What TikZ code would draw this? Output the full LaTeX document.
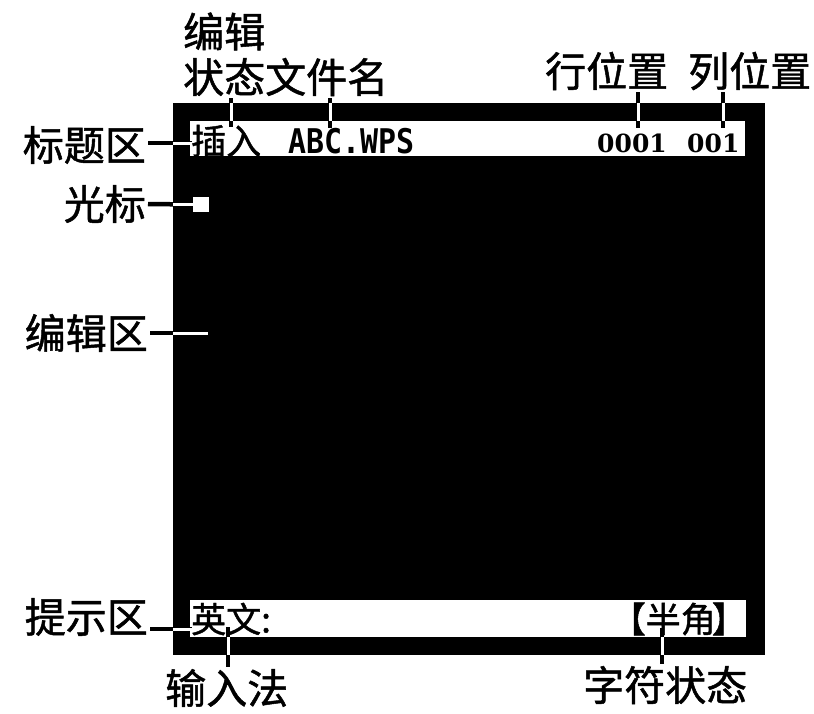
\documentclass[tikz,border=0pt]{standalone}
\usepackage{fontspec}
\newfontfamily\cjk{Noto Sans CJK SC}[FakeBold=1.2]
\newfontfamily\monofont{DejaVu Sans Mono}[FakeStretch=0.88]
\newfontfamily\digitfont{DejaVu Serif}

\begin{document}
\begin{tikzpicture}
			[
			x = {(1pt, 0pt)},
			y = {(0pt, -1pt)},
			screen/.style = {fill = black, inner sep = 0pt},
			bar/.style = {fill = white, inner sep = 0pt},
			tag/.style = {font = \cjk\fontsize{41}{41}\selectfont, inner sep = 2pt},
			shown/.style = {font = \cjk\fontsize{35}{35}\selectfont, inner sep = 0pt},
			shownmono/.style = {font = \monofont\bfseries\fontsize{34}{34}\selectfont, inner sep = 0pt},
			showndigit/.style = {font = \digitfont\bfseries\fontsize{25}{25}\selectfont, inner sep = 0pt},
			lead/.style = {color = black, line width = 4.5pt},
			leadin/.style = {color = white, line width = 3pt}]
			
			\useasboundingbox (0, 0) rectangle (814, 713);
			
			%% Drawing the screen
			
			\node[screen, minimum width = 592pt, minimum height = 552pt] (scr) at (469, 379) {};
			\node[bar, minimum width = 555pt, minimum height = 35pt] (titlebar) at (467.5, 138.5) {};
			\node[bar, minimum width = 556pt, minimum height = 37pt] (promptbar) at (468, 618.5) {};
			\node[bar, minimum width = 16pt, minimum height = 15pt] (cursor) at (201, 204.5) {};
			
			\node[shown, anchor = west] (mode) at (191, 141) {插入};
			\node[shownmono, anchor = base west] (file) at (288, 153) {ABC.WPS};
			\node[showndigit, anchor = base west] (rownum) at (597, 152) {0001};
			\node[showndigit, anchor = base west] (colnum) at (687, 152) {001};
			\node[shown, anchor = west] (method) at (191, 619) {英文:};
			\node[shown, anchor = east] (width) at (747, 619) {【半角\kern-4pt】};
			
			%% Labels round the screen
			
			\node[tag, anchor = west] (edit) at (181, 31.5) {编辑};
			\node[tag, anchor = west] (editstate) at (181, 77) {状态文件名};
			\node[tag, anchor = west] (row) at (543, 71) {行位置};
			\node[tag, anchor = west] (col) at (686, 71) {列位置};
			\node[tag, anchor = east] (titletag) at (148, 145) {标题区};
			\node[tag, anchor = east] (cursortag) at (148, 204) {光标};
			\node[tag, anchor = east] (edittag) at (150, 333) {编辑区};
			\node[tag, anchor = east] (prompttag) at (150, 617) {提示区};
			\node[tag, anchor = west] (imtag) at (163, 688) {输入法};
			\node[tag, anchor = west] (chartag) at (581, 685) {字符状态};
			
			\coordinate (titlept) at (192, 143);
			\coordinate (editpt) at (208, 333);
			\coordinate (promptpt) at (192, 629);
			\coordinate (statept) at (231, 127);
			\coordinate (filept) at (330, 128);
			\coordinate (rowpt) at (638, 128);
			\coordinate (colpt) at (723, 128);
			\coordinate (impt) at (228, 627);
			\coordinate (charpt) at (662, 628);
			
			%% Drawing the leaders
			
			\draw[lead] (titletag.east |- titlept) -- (titlept);
			\draw[lead] (cursortag.east) -- (cursor.west);
			\draw[lead] (edittag.east |- editpt) -- (editpt);
			\draw[lead] (prompttag.east |- promptpt) -- (promptpt);
			\draw[lead] (editstate.south -| statept) -- (statept);
			\draw[lead] (editstate.south -| filept) -- (filept);
			\draw[lead] (row.south -| rowpt) -- (rowpt);
			\draw[lead] (col.south -| colpt) -- (colpt);
			\draw[lead] (impt) -- (impt |- imtag.north);
			\draw[lead] (charpt) -- (charpt |- chartag.north);
			
			%% White where they cross the black
			
			\draw[leadin] (scr.west |- titlept) -- (titlept);
			\draw[leadin] (scr.west |- cursor.west) -- (cursor.west);
			\draw[leadin] (scr.west |- editpt) -- (editpt);
			\draw[leadin] (scr.west |- promptpt) -- (promptpt);
			\draw[leadin] (statept |- scr.north) -- (statept |- titlebar.north);
			\draw[leadin] (filept |- scr.north) -- (filept |- titlebar.north);
			\draw[leadin] (rowpt |- scr.north) -- (rowpt |- titlebar.north);
			\draw[leadin] (colpt |- scr.north) -- (colpt |- titlebar.north);
			\draw[leadin] (impt |- promptbar.south) -- (impt |- scr.south);
			\draw[leadin] (charpt |- promptbar.south) -- (charpt |- scr.south);
		\end{tikzpicture}
\end{document}
